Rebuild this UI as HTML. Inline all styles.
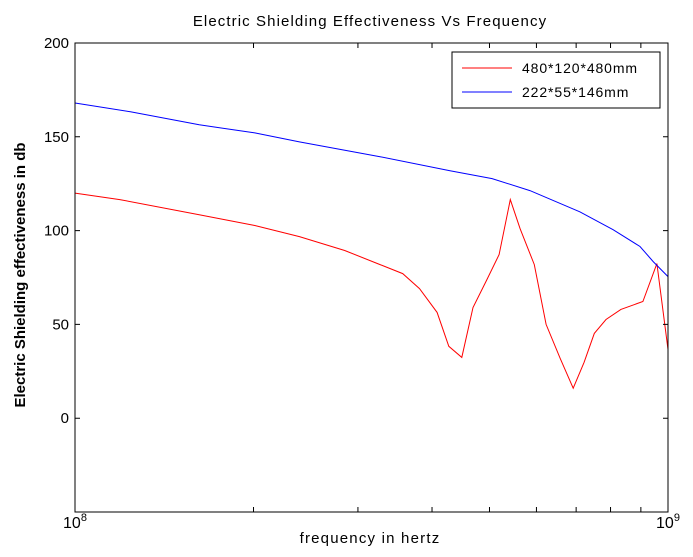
<!DOCTYPE html>
<html><head><meta charset="utf-8"><style>
body{margin:0;background:#fff}
svg text{font-family:"Liberation Sans",Arial,sans-serif;fill:#000}
</style></head><body>
<svg id="chart" width="693" height="552" xmlns="http://www.w3.org/2000/svg">
<rect width="693" height="552" fill="#fff"/>
<g id="marks"></g>
<rect x="75" y="43" width="593" height="469" fill="none" stroke="#000" stroke-width="1"/>
<g id="axes"></g>
<text x="370" y="26" text-anchor="middle" font-size="15" letter-spacing="1.1">Electric Shielding Effectiveness Vs Frequency</text>
<text x="370" y="543" text-anchor="middle" font-size="15" letter-spacing="1.2">frequency in hertz</text>
<text transform="translate(25,275) rotate(-90)" text-anchor="middle" font-size="15" font-weight="bold">Electric Shielding effectiveness in db</text>
<g>
<rect x="452" y="52" width="208" height="56" fill="#fff" stroke="#000"/>
<line x1="462" y1="68" x2="512" y2="68" stroke="#f00"/>
<text x="522" y="73" font-size="14" letter-spacing="0.9">480*120*480mm</text>
<line x1="462" y1="92" x2="512" y2="92" stroke="#00f"/>
<text x="522" y="97" font-size="14" letter-spacing="0.9">222*55*146mm</text>
</g>
</svg>
<script>
const redFreqMHz=[100,119,162,201,239,285,327,357,381,408,427,449,469,495,519,542,563,595,623,658,692,722,751,786,833,907,958,1000];
const redValues=[120,116.5,108.5,102.7,96.8,89.4,81.9,77.1,69.1,56.4,38.3,32.4,59,73.9,87.2,116.5,101,81.9,50,31.9,16,29.8,45.2,52.6,58,62.2,82.4,36.7];
const blueFreqMHz=[100,124,162,201,239,327,429,505,585,710,808,897,944,1000];
const blueValues=[168,163.3,156.4,152.1,147.3,139.4,131.9,127.7,121.3,110,100.5,91.5,83.5,75.5];
const yTicks=[0,50,100,150,200];
const L=75,R=668,T=43,B=512,YMIN=-50,YMAX=200;
const xS=f=>L+(Math.log10(f*1e6)-8)*(R-L);
const yS=v=>B-(v-YMIN)/(YMAX-YMIN)*(B-T);
const NS="http://www.w3.org/2000/svg";
const marks=document.getElementById('marks'),axes=document.getElementById('axes');
function line(fs,vs,color,name){
 const p=document.createElementNS(NS,'polyline');
 p.setAttribute('points',fs.map((f,i)=>xS(f).toFixed(1)+','+yS(vs[i]).toFixed(1)).join(' '));
 p.setAttribute('fill','none');p.setAttribute('stroke',color);p.setAttribute('stroke-width','1');
 
 
 marks.appendChild(p);
}
line(redFreqMHz,redValues,'#f00','series-480x120x480');
line(blueFreqMHz,blueValues,'#00f','series-222x55x146');
yTicks.forEach(v=>{
 const y=yS(v);
 const t=document.createElementNS(NS,'path');
 t.setAttribute('d',`M${L},${y}h5M${R},${y}h-5`);t.setAttribute('stroke','#000');
 
 
 axes.appendChild(t);
 const tx=document.createElementNS(NS,'text');
 tx.setAttribute('x',L-6);tx.setAttribute('y',y+5);tx.setAttribute('text-anchor','end');tx.setAttribute('font-size','15');
 tx.textContent=v;
 
 
 axes.appendChild(tx);
});
for(let m=2;m<=9;m++){
 const x=xS(m*100);
 const t=document.createElementNS(NS,'path');
 t.setAttribute('d',`M${x},${B}v-5M${x},${T}v5`);t.setAttribute('stroke','#000');
 
 
 axes.appendChild(t);
}
[[L,'8'],[R,'9']].forEach(([x,e])=>{
 const tx=document.createElementNS(NS,'text');
 tx.setAttribute('x',x);tx.setAttribute('y',528);tx.setAttribute('text-anchor','middle');tx.setAttribute('font-size','16');
 tx.innerHTML=`10<tspan dy="-7" font-size="11">${e}</tspan>`;
 
 
 axes.appendChild(tx);
});
</script>
</body></html>
